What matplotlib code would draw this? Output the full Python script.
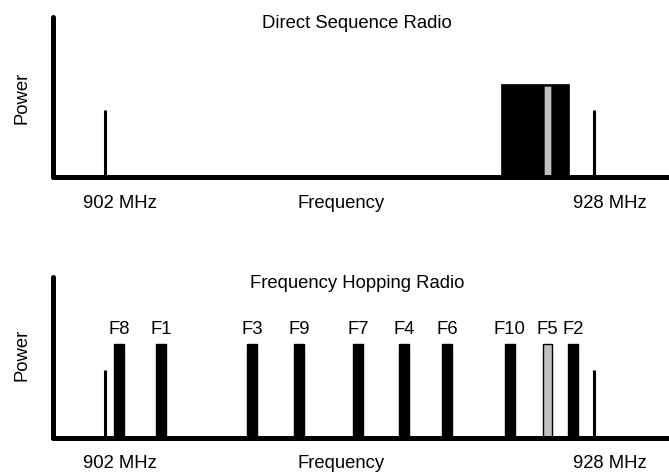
import matplotlib
matplotlib.use('Agg')
import matplotlib.pyplot as plt
from matplotlib.patches import Rectangle

plt.rcParams['font.family'] = ['Liberation Sans', 'DejaVu Sans']

# band edges (MHz) and marker height
band_edges = [902, 928]
band_labels = ['902 MHz', '928 MHz']
edge_height = 0.42

# direct sequence: one wide block plus the narrow interfered channel
ds_start = 923.04
ds_stop = 926.68
ds_height = 0.58
ds_gray = 925.53

# frequency hopping channels
hop_names = ['F8', 'F1', 'F3', 'F9', 'F7', 'F4', 'F6', 'F10', 'F5', 'F2']
hop_freqs = [902.74, 904.98, 909.81, 912.31, 915.45, 917.9, 920.18, 923.53, 925.52, 926.88]
hop_height = 0.58
hop_width = 0.5
hop_gray = 'F5'

W, H = 669, 474
fig = plt.figure(figsize=(W / 100, H / 100), dpi=100)

# x limits so that 902 sits at px 105 and 928 at px 594
ppm = (594 - 105) / 26.0
x0 = 902 - (105 - 53) / ppm
x1 = 928 + (W - 594) / ppm
fs = 13.3


def make_axes(top_px, bottom_px):
    ax = fig.add_axes([53 / W, 1 - bottom_px / H, 1 - 53 / W, (bottom_px - top_px) / H])
    ax.set_xlim(x0, x1)
    ax.set_ylim(0, 1)
    for s in ['top', 'right']:
        ax.spines[s].set_visible(False)
    for s in ['left', 'bottom']:
        ax.spines[s].set_linewidth(3.6)
        ax.spines[s].set_capstyle('round')
    ax.set_xticks([])
    ax.set_yticks([])
    ax.patch.set_alpha(0)
    # band edge markers
    ax.vlines(band_edges, 0, edge_height, color='black', lw=2.2)
    return ax


# ---- top: direct sequence
ax1 = make_axes(17, 177.5)
ax1.add_patch(Rectangle((ds_start, 0), ds_stop - ds_start, ds_height,
                        facecolor='black', edgecolor='black', lw=0.5))
ax1.add_patch(Rectangle((ds_gray - 0.17, 0), 0.34, ds_height - 0.012,
                        facecolor='#c0c0c0', edgecolor='#333333', lw=0.5))

# ---- bottom: frequency hopping
ax2 = make_axes(277, 437.5)
for name, f in zip(hop_names, hop_freqs):
    fc = '#c0c0c0' if name == hop_gray else 'black'
    ax2.add_patch(Rectangle((f - hop_width / 2, 0), hop_width, hop_height,
                            facecolor=fc, edgecolor='black', lw=1))
    ax2.text(f, 0.642, name, ha='center', va='baseline', fontsize=fs)

# text
fig.text(357 / W, 1 - 27.5 / H, 'Direct Sequence Radio', ha='center', va='baseline', fontsize=fs)
fig.text(357 / W, 1 - 288 / H, 'Frequency Hopping Radio', ha='center', va='baseline', fontsize=fs)
for yc, yb in [(97.5, 208), (355, 468)]:
    fig.text(21.5 / W, 1 - yc / H, 'Power', rotation=90, ha='center', va='center', fontsize=fs)
    fig.text(120 / W, 1 - yb / H, band_labels[0], ha='center', va='baseline', fontsize=fs)
    fig.text(610 / W, 1 - yb / H, band_labels[1], ha='center', va='baseline', fontsize=fs)
    fig.text(341.5 / W, 1 - yb / H, 'Frequency', ha='center', va='baseline', fontsize=fs)

fig.savefig('out.png', dpi=100)
